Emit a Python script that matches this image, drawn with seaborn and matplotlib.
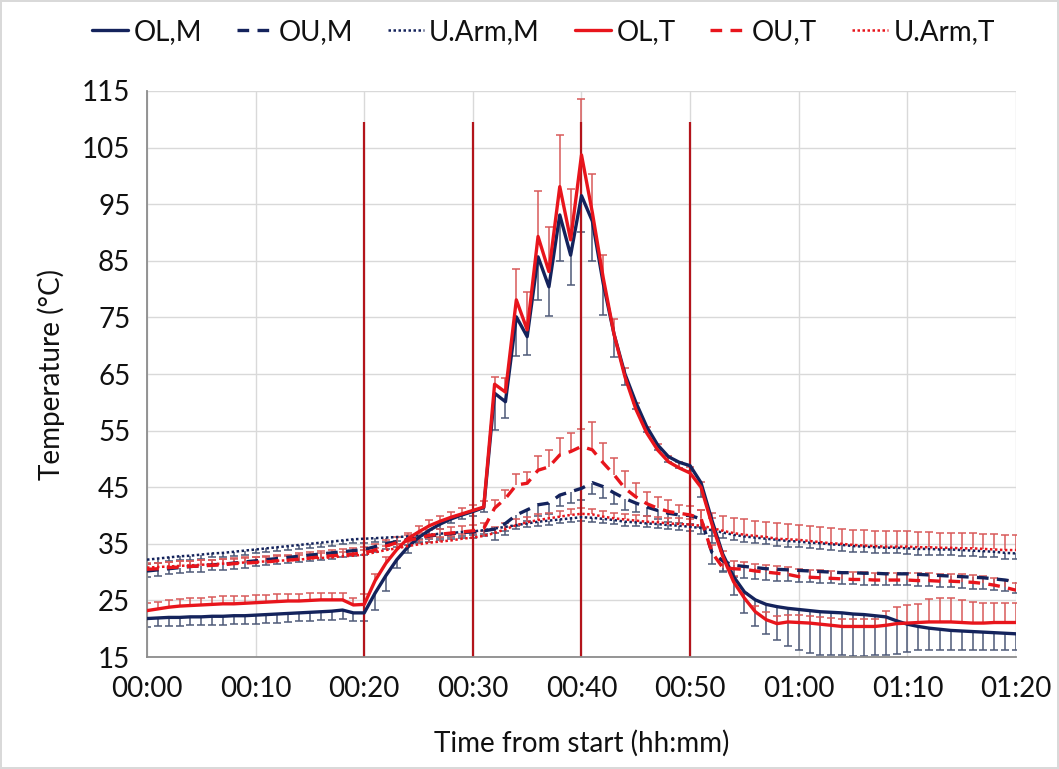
import numpy as np
import pandas as pd
import matplotlib
matplotlib.use("Agg")
import matplotlib.pyplot as plt
from matplotlib.lines import Line2D
import seaborn as sns

# ---------------- data ----------------
minutes = list(range(0, 81))

ol_m = [21.8, 21.9, 22.0, 22.0, 22.1, 22.1, 22.2, 22.2, 22.3, 22.3,
        22.4, 22.5, 22.6, 22.7, 22.8, 22.9, 23.0, 23.1, 23.3, 22.8,
        22.8, 26.3, 29.4, 32.2, 34.4, 36.1, 37.4, 38.5, 39.4, 40.1,
        40.7, 41.4, 61.6, 60.1, 75.1, 71.6, 85.7, 80.4, 93.1, 86.0,
        96.5, 92.0, 81.0, 72.0, 65.0, 60.0, 55.7, 52.5, 50.4, 49.4,
        48.8, 45.8, 39.2, 33.2, 29.2, 26.5, 25.1, 24.3, 23.9, 23.6,
        23.4, 23.2, 23.0, 22.9, 22.8, 22.6, 22.5, 22.3, 22.1, 21.4,
        20.8, 20.4, 20.1, 19.9, 19.7, 19.6, 19.5, 19.4, 19.3, 19.2, 19.1]
ol_m_err = [1.5] * 21 + [3.0, 2.7, 1.5, 1.0, 0.8, 0.8, 0.8, 0.8, 0.8, 0.8,
            0.8, 6.5, 2.8, 7.0, 3.2, 7.6, 5.1, 8.1, 5.2, 6.5,
            7.0, 5.6, 4.0, 2.0, 1.2, 1.0, 1.0, 1.0, 1.0, 1.0,
            2.5, 4.0, 3.0, 3.2, 3.8, 4.6, 5.3, 5.9, 6.6, 7.2,
            7.5, 7.6, 7.6, 7.5, 7.4, 7.3, 7.0, 6.8, 5.8, 4.9,
            4.2, 3.8, 3.6, 3.4, 3.3, 3.2, 3.1, 3.0, 3.0, 2.9]

ou_m = [30.2, 30.4, 30.6, 30.8, 31.0, 31.1, 31.3, 31.4, 31.6, 31.8,
        32.0, 32.2, 32.4, 32.6, 32.8, 33.0, 33.2, 33.4, 33.6, 33.8,
        34.0, 34.5, 35.0, 35.4, 35.8, 36.1, 36.4, 36.6, 36.8, 37.0,
        37.1, 37.3, 37.6, 38.6, 40.1, 41.0, 41.9, 42.2, 43.6, 44.2,
        44.8, 45.8, 45.1, 44.0, 43.0, 42.2, 41.5, 40.9, 40.4, 40.1,
        40.0, 39.4, 33.5, 32.0, 31.2, 31.0, 30.8, 30.6, 30.5, 30.4,
        30.3, 30.2, 30.1, 30.0, 29.9, 29.9, 29.8, 29.8, 29.7, 29.7,
        29.7, 29.6, 29.5, 29.4, 29.3, 29.2, 29.1, 29.0, 28.8, 28.6, 28.3]
ou_m_err = [1.0] * 32 + [2.0] * 13 + [1.5] * 7 + [2.0] * 29

uarm_m = [32.2, 32.4, 32.6, 32.8, 32.9, 33.1, 33.3, 33.4, 33.6, 33.8,
          34.0, 34.2, 34.4, 34.6, 34.8, 35.0, 35.2, 35.4, 35.6, 35.8,
          35.9, 36.0, 36.1, 36.2, 36.3, 36.5, 36.6, 36.8, 36.9, 37.1,
          37.2, 37.4, 37.7, 38.0, 38.3, 38.6, 38.9, 39.1, 39.3, 39.5,
          39.7, 39.6, 39.4, 39.2, 38.9, 38.8, 38.6, 38.5, 38.3, 38.2,
          38.0, 37.8, 37.4, 37.0, 36.6, 36.3, 36.1, 35.9, 35.7, 35.5,
          35.4, 35.2, 35.1, 34.9, 34.8, 34.6, 34.5, 34.4, 34.3, 34.3,
          34.2, 34.1, 34.1, 34.0, 34.0, 33.9, 33.8, 33.7, 33.6, 33.4, 33.3]
uarm_m_err = [0.7] * 51 + [1.0] * 30

ol_t = [23.2, 23.5, 23.8, 24.0, 24.1, 24.2, 24.3, 24.4, 24.4, 24.5,
        24.6, 24.7, 24.8, 24.9, 24.9, 25.0, 25.1, 25.1, 25.1, 24.2,
        24.3, 28.5, 31.6, 34.0, 35.9, 37.1, 38.2, 39.0, 39.7, 40.3,
        40.9, 41.5, 63.2, 61.8, 78.1, 72.8, 89.3, 83.1, 98.1, 88.7,
        103.7, 93.5, 82.0, 72.0, 64.5, 58.8, 54.6, 51.6, 49.5, 48.4,
        47.5, 45.0, 38.5, 32.8, 28.3, 25.4, 23.0, 21.6, 20.9, 21.2,
        21.1, 21.0, 20.8, 20.6, 20.4, 20.4, 20.4, 20.4, 20.6, 20.9,
        21.0, 21.1, 21.2, 21.2, 21.2, 21.1, 21.0, 21.0, 21.1, 21.1, 21.1]
ol_t_err = [1.3] * 20 + [1.8, 1.2] + [1.0] * 10 + [
            1.3, 2.5, 5.4, 6.6, 8.1, 7.9, 9.2, 8.9, 9.9, 6.9,
            4.1, 2.8, 1.5, 1.0, 1.0, 1.0, 1.0, 1.0, 1.0, 1.0,
            1.0, 1.0, 1.0, 1.0, 1.0, 1.3, 1.3, 1.3, 1.3, 1.3,
            1.3, 1.3, 1.3, 1.3, 1.3, 1.3, 2.5, 3.0, 3.2, 3.3,
            4.0, 4.2, 4.2, 4.0, 3.7, 3.5, 3.4, 3.4, 3.4]

ou_t = [30.5, 30.6, 30.8, 30.9, 31.0, 31.1, 31.2, 31.3, 31.5, 31.6,
        31.7, 31.8, 32.0, 32.1, 32.3, 32.5, 32.7, 32.9, 33.0, 33.2,
        33.4, 33.9, 34.6, 35.2, 35.6, 36.0, 36.5, 36.7, 36.9, 37.1,
        37.3, 37.7, 41.3, 43.0, 45.4, 45.7, 48.0, 48.6, 50.7, 51.3,
        52.2, 51.6, 49.3, 47.2, 44.8, 43.3, 42.1, 41.3, 40.7, 40.4,
        40.1, 39.5, 33.5, 30.8, 30.6, 30.5, 30.2, 30.0, 29.8, 29.6,
        29.2, 29.1, 29.0, 28.9, 28.8, 28.7, 28.7, 28.6, 28.6, 28.6,
        28.6, 28.5, 28.5, 28.4, 28.4, 28.3, 28.2, 28.0, 27.7, 27.3, 26.8]
ou_t_err = [1.0] * 32 + [1.5, 1.5, 2.0, 2.0, 2.5, 3.0, 3.0, 3.3, 3.0, 5.0,
            3.5, 3.0, 3.0, 2.5, 2.0, 2.0, 2.0, 1.5, 1.5, 1.5] + [1.3] * 29

uarm_t = [30.8, 30.9, 31.0, 31.1, 31.2, 31.3, 31.4, 31.5, 31.6, 31.7,
          31.8, 31.9, 32.0, 32.1, 32.2, 32.4, 32.5, 32.6, 32.8, 32.9,
          33.1, 33.5, 33.9, 34.2, 34.6, 34.9, 35.2, 35.4, 35.6, 35.9,
          36.1, 36.4, 36.9, 37.6, 38.3, 38.8, 39.2, 39.5, 39.8, 40.1,
          40.3, 40.2, 39.8, 39.5, 39.3, 39.1, 38.9, 38.8, 38.6, 38.5,
          38.4, 38.2, 37.8, 37.3, 36.9, 36.6, 36.4, 36.2, 35.9, 35.8,
          35.7, 35.5, 35.3, 35.1, 35.0, 34.8, 34.7, 34.6, 34.5, 34.5,
          34.5, 34.4, 34.4, 34.3, 34.3, 34.2, 34.2, 34.1, 34.0, 33.9, 33.9]
uarm_t_err = [0.8] * 32 + [1.0] * 19 + [2.7] * 30

series_names = ["OL,M", "OU,M", "U.Arm,M", "OL,T", "OU,T", "U.Arm,T"]
phase_marks = [20, 30, 40, 50]
x_ticks = [0, 10, 20, 30, 40, 50, 60, 70, 80]
x_tick_labels = ["00:00", "00:10", "00:20", "00:30", "00:40",
                 "00:50", "01:00", "01:10", "01:20"]
y_ticks = [15, 25, 35, 45, 55, 65, 75, 85, 95, 105, 115]

# ---------------- style ----------------
sns.set_theme(style="white")
plt.rcParams["font.family"] = ["Lato", "DejaVu Sans"]

NAVY = "#14235C"
RED = "#E8151C"
NAVY_ERR = "#4E5A78"
RED_ERR = "#D85A5A"
VLINE = "#B3141B"
TXT = "#111111"

values = [ol_m, ou_m, uarm_m, ol_t, ou_t, uarm_t]
errors = [ol_m_err, ou_m_err, uarm_m_err, ol_t_err, ou_t_err, uarm_t_err]
colors = [NAVY, NAVY, NAVY, RED, RED, RED]
ecolors = [NAVY_ERR, NAVY_ERR, NAVY_ERR, RED_ERR, RED_ERR, RED_ERR]
downward = [True, True, True, False, False, False]
styles = ["-", (0, (3.5, 2.5)), (0, (1, 1)), "-", (0, (3.5, 2.5)), (0, (1, 1))]
widths = [2.4, 2.4, 1.8, 2.4, 2.4, 1.8]

df = pd.DataFrame({"minute": minutes})
for n, v in zip(series_names, values):
    df[n] = v

fig = plt.figure(figsize=(10.59, 7.69), dpi=100)
fig.patch.set_facecolor("white")
fig.patch.set_edgecolor("#D9D9D9")
fig.patch.set_linewidth(1.5)
ax = fig.add_axes([0.1388, 0.1456, 0.8206, 0.7361])

# error bars
for n, e, ec, down in zip(series_names, errors, ecolors, downward):
    e = np.asarray(e)
    z = np.zeros_like(e)
    yerr = [e, z] if down else [z, e]
    cont = ax.errorbar(df["minute"], df[n], yerr=yerr, fmt="none",
                       ecolor=ec, elinewidth=1.1, capsize=3.2,
                       capthick=1.1, zorder=2)
    caps = cont[1]
    if len(caps) == 2:
        caps[1 if down else 0].set_visible(False)

# phase markers
ax.vlines(phase_marks, 15, 109.5, colors=VLINE, linewidth=1.6, zorder=2.5)

# lines
for n, c, ls, lw in zip(series_names, colors, styles, widths):
    sns.lineplot(data=df, x="minute", y=n, ax=ax, color=c, linewidth=lw,
                 linestyle=ls, zorder=3, legend=False)

ax.set_xlim(0, 80)
ax.set_ylim(15, 115)
ax.set_xticks(x_ticks)
ax.set_xticklabels(x_tick_labels)
ax.set_yticks(y_ticks)
ax.grid(True, color="#D9D9D9", linewidth=1.0, zorder=0)
ax.set_axisbelow(True)
for s in ["top", "right"]:
    ax.spines[s].set_visible(False)
for s in ["left", "bottom"]:
    ax.spines[s].set_color("#8C8C8C")
    ax.spines[s].set_linewidth(1.3)
ax.tick_params(axis="both", length=0, labelsize=20, colors=TXT)
ax.tick_params(axis="x", pad=14)
ax.tick_params(axis="y", pad=12)
ax.set_xlabel("Time from start (hh:mm)", fontsize=20, color=TXT, labelpad=20)
ax.set_ylabel("Temperature (°C)", fontsize=20, color=TXT, labelpad=12)

handles = [Line2D([0], [0], color=c, linestyle=ls, linewidth=lw)
           for c, ls, lw in zip(colors, styles, widths)]
fig.legend(handles, series_names, loc="upper center",
           bbox_to_anchor=(0.513, 1.008), ncol=6, frameon=False,
           fontsize=20, handlelength=1.3, handletextpad=0.2,
           columnspacing=1.25, labelcolor=TXT)

fig.savefig("out.png", dpi=100, facecolor=fig.get_facecolor(),
            edgecolor=fig.get_edgecolor())
